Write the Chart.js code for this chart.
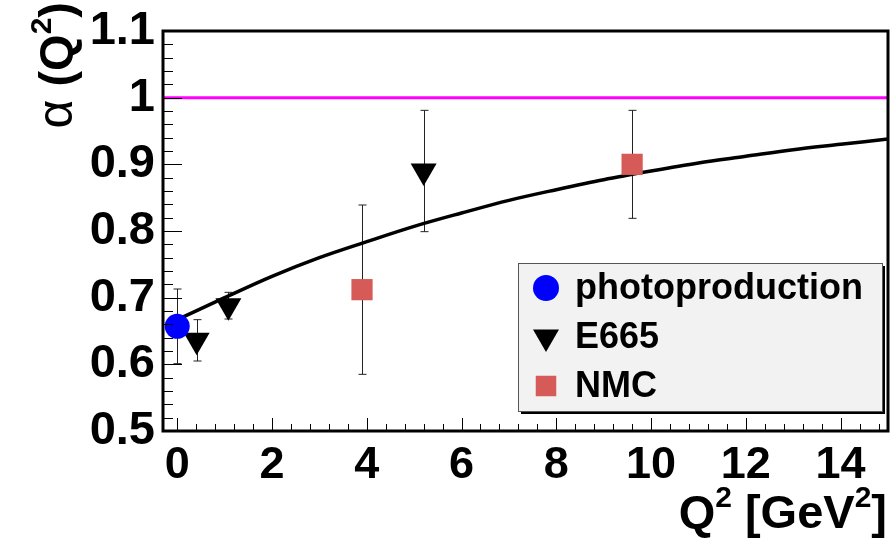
<!DOCTYPE html>
<html lang="en">
<head>
<meta charset="UTF-8" />
<title>alpha(Q2)</title>
<script src="https://cdn.jsdelivr.net/npm/chart.js"></script>
<style>
  html, body { margin: 0; padding: 0; background: #fff; }
  #wrap { width: 892px; height: 539px; }
</style>
</head>
<body>
<div id="wrap"><canvas id="alphaChart" width="892" height="539"></canvas></div>
<script>
// values
const photoQ2 = [0.0];
const photoAlpha = [0.657];
const photoErr = [0.056];

const e665Q2 = [0.41, 1.08, 5.2];
const e665Alpha = [0.636, 0.688, 0.89];
const e665Err = [0.031, 0.02, 0.091];

const nmcQ2 = [3.9, 9.6];
const nmcAlpha = [0.712, 0.9];
const nmcErr = [0.127, 0.081];

// the black fit curve, sampled by eye
const curveQ2 = [0, 1, 2, 3, 4, 5, 6, 7, 8, 9, 10, 11, 12, 13, 14, 15];
const curveAlpha = [0.667, 0.70, 0.732, 0.760, 0.784, 0.807, 0.827, 0.846, 0.862, 0.877, 0.890, 0.902, 0.912, 0.922, 0.930, 0.938];

// magenta reference line at alpha = 1
const refQ2 = [-0.3, 15];
const refAlpha = [1, 1];

const xTicks = [0, 2, 4, 6, 8, 10, 12, 14];
const yTicks = [0.5, 0.6, 0.7, 0.8, 0.9, 1.0, 1.1];

const FONT = '"Liberation Sans", Arial, Helvetica, sans-serif';
const NMC_RED = '#d65a57';

function pts(xs, ys) {
    return xs.map((x, i) => ({ x: x, y: ys[i] }));
}

const errors = [
    { q: photoQ2, a: photoAlpha, e: photoErr },
    { q: e665Q2, a: e665Alpha, e: e665Err },
    { q: nmcQ2, a: nmcAlpha, e: nmcErr }
];

// error bars behind the markers
const errorBars = {
    id: 'errorBars',
    beforeDatasetsDraw(chart) {
        const ctx = chart.ctx, xs = chart.scales.x, ys = chart.scales.y;
        ctx.save();
        ctx.strokeStyle = '#222';
        ctx.lineWidth = 1;
        errors.forEach(set => {
            set.q.forEach((q, i) => {
                const px = Math.round(xs.getPixelForValue(q)) + 0.5;
                const top = ys.getPixelForValue(set.a[i] + set.e[i]);
                const bot = ys.getPixelForValue(set.a[i] - set.e[i]);
                ctx.beginPath();
                ctx.moveTo(px, top); ctx.lineTo(px, bot);
                ctx.moveTo(px - 4, top); ctx.lineTo(px + 4, top);
                ctx.moveTo(px - 4, bot); ctx.lineTo(px + 4, bot);
                ctx.stroke();
            });
        });
        ctx.restore();
    }
};

// ROOT-like frame with inward ticks
const frame = {
    id: 'frame',
    afterDatasetsDraw(chart) {
        const ctx = chart.ctx, a = chart.chartArea;
        const xs = chart.scales.x, ys = chart.scales.y;
        ctx.save();
        ctx.strokeStyle = '#000';
        ctx.lineWidth = 1;
        ctx.beginPath();
        for (let v = 0; v <= 15.001; v += 0.4) {
            const px = Math.round(xs.getPixelForValue(v)) + 0.5;
            const major = Math.abs(v / 2 - Math.round(v / 2)) < 1e-6;
            ctx.moveTo(px, a.bottom);
            ctx.lineTo(px, a.bottom - (major ? 13 : 7));
        }
        for (let v = 0.5; v <= 1.1001; v += 0.02) {
            const py = Math.round(ys.getPixelForValue(v)) + 0.5;
            const major = Math.abs(v * 10 - Math.round(v * 10)) < 1e-6;
            ctx.moveTo(a.left, py);
            ctx.lineTo(a.left + (major ? 19 : 10), py);
        }
        ctx.stroke();
        ctx.lineWidth = 3;
        ctx.strokeRect(a.left, a.top, a.right - a.left, a.bottom - a.top);
        ctx.restore();
    }
};

function drawPieces(ctx, pieces, x, y) {
    let cx = x;
    pieces.forEach(p => {
        ctx.font = p.font;
        ctx.fillText(p.text, cx, y - (p.raise || 0));
        cx += ctx.measureText(p.text).width;
    });
}
function piecesWidth(ctx, pieces) {
    let w = 0;
    pieces.forEach(p => { ctx.font = p.font; w += ctx.measureText(p.text).width; });
    return w;
}

// axis titles with superscripts
const titles = {
    id: 'titles',
    afterDraw(chart) {
        const ctx = chart.ctx;
        const big = 'bold 47px ' + FONT, sup = 'bold 30px ' + FONT;
        ctx.save();
        ctx.fillStyle = '#000';
        ctx.textAlign = 'left';
        ctx.textBaseline = 'alphabetic';

        const xt = [
            { text: 'Q', font: big },
            { text: '2', font: sup, raise: 21 },
            { text: ' [GeV', font: big },
            { text: '2', font: sup, raise: 21 },
            { text: ']', font: big }
        ];
        drawPieces(ctx, xt, 887 - piecesWidth(ctx, xt), 528);

        const yt = [
            { text: 'α', font: '50px ' + FONT },
            { text: ' (Q', font: big },
            { text: '2', font: sup, raise: 21 },
            { text: ')', font: big }
        ];
        const w = piecesWidth(ctx, yt);
        ctx.translate(72, 0);
        ctx.rotate(-Math.PI / 2);
        drawPieces(ctx, yt, -2 - w, 0);
        ctx.restore();
    }
};

// legend box in ROOT style
const legendEntries = [
    { label: 'photoproduction', color: '#0000ff', style: 'circle', radius: 13, rotation: 0 },
    { label: 'E665', color: '#000000', style: 'triangle', radius: 15, rotation: 180 },
    { label: 'NMC', color: NMC_RED, style: 'rect', radius: 14.5, rotation: 0 }
];
const boxLegend = {
    id: 'boxLegend',
    afterDraw(chart) {
        const ctx = chart.ctx;
        const bx = 518, by = 263, bw = 364, bh = 148;
        ctx.save();
        ctx.fillStyle = '#000';
        ctx.fillRect(bx + 3, by + 3, bw, bh);
        ctx.fillStyle = '#f2f2f2';
        ctx.fillRect(bx, by, bw, bh);
        ctx.strokeStyle = '#555';
        ctx.lineWidth = 1;
        ctx.strokeRect(bx + 0.5, by + 0.5, bw, bh);
        legendEntries.forEach((e, i) => {
            const cy = 288 + i * 49;
            ctx.fillStyle = e.color;
            Chart.helpers.drawPoint(ctx, {
                pointStyle: e.style, radius: e.radius, rotation: e.rotation, borderWidth: 0
            }, 546, cy);
            ctx.fillStyle = '#000';
            ctx.font = 'bold 36px ' + FONT;
            ctx.textAlign = 'left';
            ctx.textBaseline = 'middle';
            ctx.fillText(e.label, 575, cy + 1);
        });
        ctx.restore();
    }
};

const ctx = document.getElementById('alphaChart').getContext('2d');
const alphaChart = new Chart(ctx, {
    type: 'scatter',
    data: {
        datasets: [
            {
                label: 'photoproduction',
                data: pts(photoQ2, photoAlpha),
                backgroundColor: '#0000ff',
                borderWidth: 0,
                pointStyle: 'circle',
                pointRadius: 12.5
            },
            {
                label: 'E665',
                data: pts(e665Q2, e665Alpha),
                backgroundColor: '#000',
                borderWidth: 0,
                pointStyle: 'triangle',
                pointRotation: 180,
                pointRadius: 15
            },
            {
                label: 'NMC',
                data: pts(nmcQ2, nmcAlpha),
                backgroundColor: NMC_RED,
                borderWidth: 0,
                pointStyle: 'rect',
                pointRadius: 15
            },
            {
                label: 'fit',
                data: pts(curveQ2, curveAlpha),
                showLine: true,
                borderColor: '#000',
                borderWidth: 3.5,
                pointRadius: 0,
                cubicInterpolationMode: 'monotone'
            },
            {
                label: 'one',
                data: pts(refQ2, refAlpha),
                showLine: true,
                borderColor: '#ff00ff',
                borderWidth: 3,
                pointRadius: 0
            }
        ]
    },
    options: {
        responsive: false,
        animation: false,
        devicePixelRatio: 1,
        layout: { autoPadding: false, padding: { top: 31, right: 4, left: 0, bottom: 0 } },
        plugins: {
            legend: { display: false },
            tooltip: { enabled: false }
        },
        scales: {
            x: {
                type: 'linear',
                min: -0.3,
                max: 15,
                grid: { display: false, drawTicks: false },
                border: { display: false },
                afterBuildTicks: s => { s.ticks = xTicks.map(v => ({ value: v })); },
                afterFit: s => { s.height = 108; s.paddingLeft = 0; s.paddingRight = 0; },
                ticks: {
                    color: '#000',
                    padding: 8,
                    maxRotation: 0,
                    font: { family: FONT, size: 45, weight: 'bold' }
                }
            },
            y: {
                type: 'linear',
                min: 0.5,
                max: 1.1,
                grid: { display: false, drawTicks: false },
                border: { display: false },
                afterBuildTicks: s => { s.ticks = yTicks.map(v => ({ value: v })); },
                afterFit: s => { s.width = 163; s.paddingTop = 0; s.paddingBottom = 0; },
                ticks: {
                    color: '#000',
                    padding: 8,
                    font: { family: FONT, size: 47, weight: 'bold' },
                    callback: v => String(parseFloat(v.toFixed(1)))
                }
            }
        }
    },
    plugins: [errorBars, frame, titles, boxLegend]
});
</script>
</body>
</html>
